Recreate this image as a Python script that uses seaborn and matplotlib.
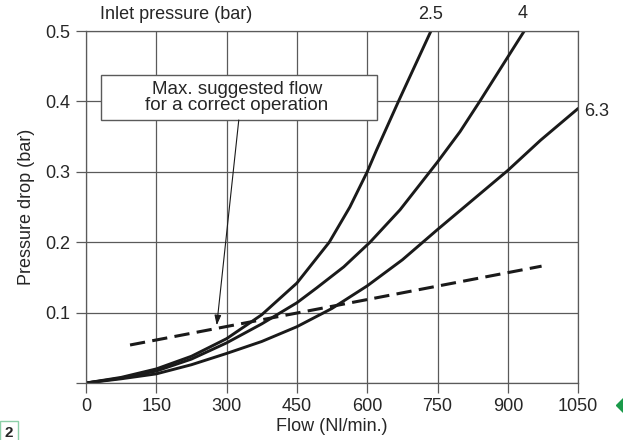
import numpy as np
import pandas as pd
import matplotlib.pyplot as plt
import seaborn as sns
from matplotlib.patches import Rectangle
from matplotlib.lines import Line2D

# curves: flow (Nl/min) vs pressure drop (bar)
flow_25 = [0, 75, 150, 225, 300, 375, 450, 519, 563, 600, 620, 668, 736]
drop_25 = [0, 0.008, 0.02, 0.038, 0.063, 0.097, 0.142, 0.2, 0.25, 0.3, 0.331, 0.402, 0.5]

flow_4 = [0, 75, 150, 225, 300, 375, 450, 492, 550, 606, 670, 750, 798, 840, 935]
drop_4 = [0, 0.007, 0.017, 0.034, 0.057, 0.084, 0.114, 0.135, 0.165, 0.2, 0.246, 0.314, 0.357, 0.4, 0.5]

flow_63 = [0, 75, 150, 225, 300, 375, 450, 525, 600, 675, 750, 825, 900, 970, 1050]
drop_63 = [0, 0.006, 0.013, 0.026, 0.042, 0.059, 0.08, 0.106, 0.138, 0.175, 0.218, 0.26, 0.302, 0.345, 0.39]

# max. suggested flow line
flow_max = [94, 972]
drop_max = [0.054, 0.166]

x_ticks = [0, 150, 300, 450, 600, 750, 900, 1050]
y_ticks = [0, 0.1, 0.2, 0.3, 0.4, 0.5]
y_labels = ["", "0.1", "0.2", "0.3", "0.4", "0.5"]

curves = pd.concat([
    pd.DataFrame({"flow": flow_25, "drop": drop_25, "inlet": "2.5"}),
    pd.DataFrame({"flow": flow_4, "drop": drop_4, "inlet": "4"}),
    pd.DataFrame({"flow": flow_63, "drop": drop_63, "inlet": "6.3"}),
])
limit = pd.DataFrame({"flow": flow_max, "drop": drop_max})

sns.set_style("white")
plt.rcParams["font.family"] = ["Liberation Sans", "DejaVu Sans"]
grid_col = "#5a5a5a"
ink = "#1a1a1a"

fig = plt.figure(figsize=(6.23, 4.40), dpi=100)
ax = fig.add_axes([0.138, 0.1295, 0.79, 0.80])

sns.lineplot(data=curves, x="flow", y="drop", units="inlet", estimator=None,
             color=ink, linewidth=2.1, ax=ax, sort=False)
sns.lineplot(data=limit, x="flow", y="drop", color=ink, linewidth=2.2,
             ax=ax, linestyle=(0, (5, 2.4)))

ax.set_xlim(0, 1050)
ax.set_ylim(0, 0.5)
ax.set_xticks(x_ticks)
ax.set_yticks(y_ticks)
ax.set_yticklabels(y_labels)
ax.grid(True, color=grid_col, linewidth=0.9)
ax.set_axisbelow(True)
for s in ax.spines.values():
    s.set_color(grid_col)
    s.set_linewidth(0.9)
ax.tick_params(direction="out", length=7, width=0.9, color=grid_col,
               labelsize=13, pad=4, left=True, bottom=True)
ax.set_xlabel("Flow (Nl/min.)", fontsize=13, labelpad=2)
ax.set_ylabel("Pressure drop (bar)", fontsize=13, labelpad=8)

# curve labels
ax.text(30, 0.523, "Inlet pressure (bar)", fontsize=13, ha="left", va="center", clip_on=False)
ax.text(736, 0.523, "2.5", fontsize=13, ha="center", va="center", clip_on=False)
ax.text(932, 0.525, "4", fontsize=13, ha="center", va="center", clip_on=False)
ax.text(1062, 0.385, "6.3", fontsize=13, ha="left", va="center", clip_on=False)

# annotation box with arrow
ax.add_patch(Rectangle((32, 0.3736), 589, 0.0639, fc="white", ec=grid_col,
                       lw=1.0, zorder=5))
ax.text(322, 0.4055, "Max. suggested flow\nfor a correct operation",
        fontsize=13.5, ha="center", va="center", linespacing=0.95, zorder=6)
ax.annotate("", xy=(279, 0.082), xytext=(326, 0.3736),
            arrowprops=dict(arrowstyle="-|>,head_length=0.6,head_width=0.2",
                            color=ink, lw=0.8, shrinkA=0, shrinkB=0), zorder=6)

# page marks
fig.text(0.014, 0.017, "2", fontsize=11, fontweight="bold", ha="center", va="center",
         bbox=dict(boxstyle="square,pad=0.3", fc="white", ec="#8ccfa8", lw=1.0))
fig.add_artist(Line2D([1.0], [0.08], marker="D", markersize=7, color="#1a9a4a",
                      transform=fig.transFigure))

fig.savefig("out.png", dpi=100)
